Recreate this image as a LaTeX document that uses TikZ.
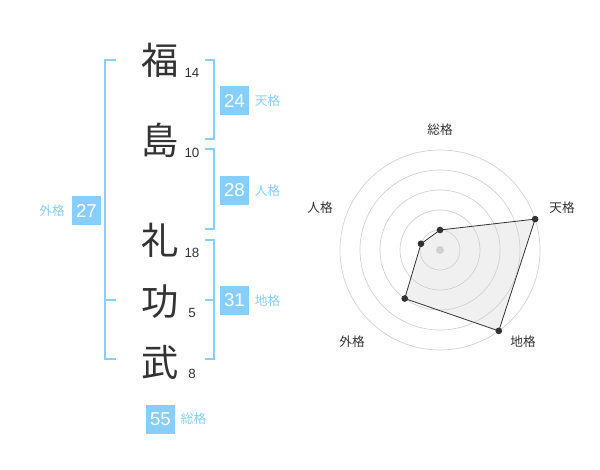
\documentclass[tikz,border=0pt]{standalone}
\usepackage{fontspec}
\usetikzlibrary{positioning,calc}
\setmainfont{Noto Sans CJK JP}
\newfontfamily\digitfont{Liberation Sans}
\definecolor{kakublue}{HTML}{87CEFA}
\definecolor{kanjigray}{HTML}{333333}
\definecolor{gridgray}{HTML}{D0D0D0}
\definecolor{areagray}{HTML}{F0F0F0}
\tikzset{
  kanji/.style={text=kanjigray, font=\fontsize{28}{28}\selectfont, inner sep=0pt},
  strokes/.style={text=kanjigray, font=\digitfont\fontsize{10}{10}\selectfont, inner sep=0pt},
  kakubox/.style={fill=kakublue, text=white, font=\digitfont\fontsize{14}{14}\selectfont, minimum size=21.75pt, inner sep=0pt},
  kakulabel/.style={text=kakublue, font=\fontsize{9.5}{9.5}\selectfont, inner sep=0pt},
  bracket/.style={draw=kakublue, line width=1.2pt},
  radarlabel/.style={text=kanjigray, font=\fontsize{9.5}{9.5}\selectfont, inner sep=0pt},
  dot/.style={circle, fill=kanjigray, inner sep=0pt, minimum size=5pt},
}
\begin{document}
\begin{tikzpicture}[x=0.75pt, y=-0.75pt]
		\useasboundingbox (0,0) rectangle (600,470);
		
		% Name characters and stroke counts
		\node[kanji] (fuku) at (160,60) {福};
		\node[kanji] (shima) at (160,140) {島};
		\node[kanji] (rei) at (160,240) {礼};
		\node[kanji] (kou) at (160,302) {功};
		\node[kanji] (take) at (160,362) {武};
		\node[strokes] (n1) at (192,73) {14};
		\node[strokes] (n2) at (192,153) {10};
		\node[strokes] (n3) at (192,253) {18};
		\node[strokes] (n4) at (192,313) {5};
		\node[strokes] (n5) at (192,374) {8};
		
		% Brackets
		\draw[bracket] (116,60) -- (105,60) -- (105,359) -- (116,359);
		\draw[bracket] (105,300) -- (116,300);
		\draw[bracket] (205,60) -- (214,60) -- (214,139) -- (205,139);
		\draw[bracket] (205,149) -- (214,149) -- (214,229) -- (205,229);
		\draw[bracket] (205,240) -- (214,240) -- (214,359) -- (205,359);
		\draw[bracket] (214,300) -- (205,300);
		
		% Kaku values
		\node[kakubox] (ten) at (234.5,100.5) {24};
		\node[kakulabel, right=4pt of ten] {天格};
		\node[kakubox] (jin) at (234.5,190.5) {28};
		\node[kakulabel, right=4pt of jin] {人格};
		\node[kakubox] (chi) at (234.5,300.5) {31};
		\node[kakulabel, right=4pt of chi] {地格};
		\node[kakubox] (gai) at (86.5,210.5) {27};
		\node[kakulabel, left=5pt of gai] {外格};
		\node[kakubox] (sou) at (160.5,419) {55};
		\node[kakulabel, right=4pt of sou] {総格};
		
		% Radar chart
		\coordinate (c) at (440,250);
		\coordinate (pSou) at ($(c)+(-90:20)$);
		\coordinate (pTen) at ($(c)+(-18:100)$);
		\coordinate (pChi) at ($(c)+(54:100)$);
		\coordinate (pGai) at ($(c)+(126:60)$);
		\coordinate (pJin) at ($(c)+(198:20)$);
		\fill[areagray] (pSou) -- (pTen) -- (pChi) -- (pGai) -- (pJin) -- cycle;
		\foreach \r in {20,40,...,100}
			\draw[gridgray, line width=0.5pt] (c) circle[radius=\r];
		\draw[kanjigray, line width=0.6pt] (pSou) -- (pTen) -- (pChi) -- (pGai) -- (pJin) -- cycle;
		\foreach \p in {pSou,pTen,pChi,pGai,pJin}
			\node[dot] at (\p) {};
		\node[circle, fill=gridgray, inner sep=0pt, minimum size=6pt] (mid) at (c) {};
		\node[radarlabel] (lSou) at (440,130) {総格};
		\node[radarlabel] (lTen) at (562,208) {天格};
		\node[radarlabel] (lChi) at (523,342) {地格};
		\node[radarlabel] (lGai) at (352,342) {外格};
		\node[radarlabel] (lJin) at (320,208) {人格};
	\end{tikzpicture}
\end{document}
